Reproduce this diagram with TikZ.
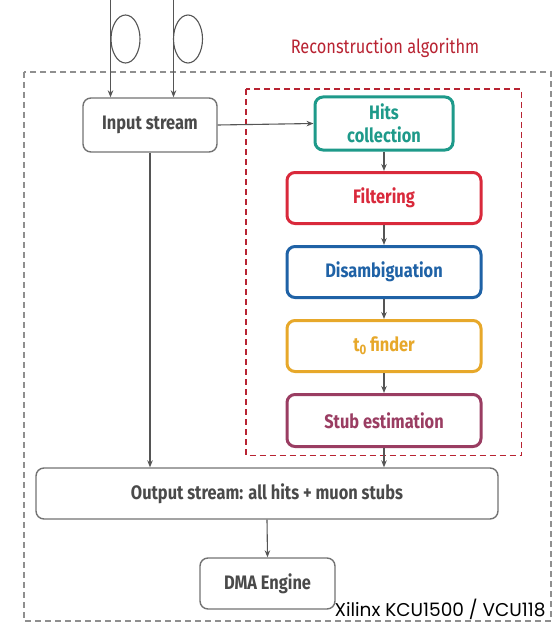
\documentclass[tikz,border=0pt]{standalone}
\usepackage{fontspec}
\setmainfont{Fira Sans}[FakeStretch=0.84]
\newfontfamily\boardfont{Poppins}
\usetikzlibrary{arrows.meta}
\definecolor{hitsc}{HTML}{1E9A8A}
\definecolor{filtc}{HTML}{D9293B}
\definecolor{disac}{HTML}{1F62A6}
\definecolor{tzeroc}{HTML}{E7A82A}
\definecolor{stubc}{HTML}{9A3D62}
\definecolor{framec}{HTML}{737373}
\definecolor{linec}{HTML}{555555}
\definecolor{txtc}{HTML}{4A4A4A}
\begin{document}
\begin{tikzpicture}[x=1pt,y=-1pt,
  graybox/.style={draw=framec,line width=1.4pt,rounded corners=8pt,fill=white,
    font=\fontsize{19.5}{20}\selectfont\bfseries,text=txtc,align=center,inner sep=0pt},
  algobox/.style={draw=#1,line width=3pt,rounded corners=8pt,fill=white,
    font=\fontsize{19.5}{23}\selectfont\bfseries,text=#1,align=center,inner sep=0pt,
    minimum width=194pt,minimum height=51pt},
  flow/.style={draw=linec,line width=1.1pt,-{Stealth[length=7pt,width=5.5pt]}},
  fiber/.style={draw=linec,line width=1.1pt}]
\useasboundingbox (0,0) rectangle (555,623);
% outer board frame
\draw[framec!80,line width=1.3pt,dash pattern=on 6pt off 4pt] (24,72) rectangle (551,621);
% reconstruction block frame
\draw[filtc!85!black,line width=1.2pt,dash pattern=on 6pt off 4pt] (246,89) rectangle (521.5,455.5);
\node[text=filtc!85!black,font=\fontsize{19.5}{21}\selectfont,anchor=base] (ralg) at (385,54) {Reconstruction algorithm};

% input fibres
\coordinate (f1) at (110.5,0);
\coordinate (f2) at (173.5,0);
\draw[fiber] (125.5,39) ellipse (14.5pt and 24pt);
\draw[fiber] (188,39) ellipse (14.5pt and 24pt);

% boxes
\node[graybox,minimum width=134pt,minimum height=54pt] (in) at (150,125) {Input stream};
\node[algobox=hitsc,minimum width=138pt,minimum height=53pt] (hits) at (384,123.5) {Hits\\collection};
\node[algobox=filtc] (filt) at (384,198) {Filtering};
\node[algobox=disac] (disa) at (384,272) {Disambiguation};
\node[algobox=tzeroc] (tz) at (384,346) {t\textsubscript{0}\,finder};
\node[algobox=stubc,minimum height=52pt] (stub) at (384,420.5) {Stub estimation};
\node[graybox,minimum width=462pt,minimum height=51pt] (out) at (267,493.5) {Output stream: all hits + muon stubs};
\node[graybox,minimum width=135pt,minimum height=51pt] (dma) at (267.5,583.5) {DMA Engine};
\node[anchor=base east,text=black,font=\boardfont\fontsize{18.5}{20}\selectfont] (board) at (549,616) {Xilinx KCU1500 / VCU118};

% connectors
\draw[flow] (f1) -- (f1 |- in.north);
\draw[flow] (f2) -- (f2 |- in.north);
\draw[flow] (in.east) -- (hits.west);
\draw[flow] (in.south) -- (in.south |- out.north);
\draw[flow] (hits.south) -- (filt.north);
\draw[flow] (filt.south) -- (disa.north);
\draw[flow] (disa.south) -- (tz.north);
\draw[flow] (tz.south) -- (stub.north);
\draw[flow] (stub.south) -- (stub.south |- out.north);
\draw[flow] (out.south) -- (dma.north);
\end{tikzpicture}
\end{document}
